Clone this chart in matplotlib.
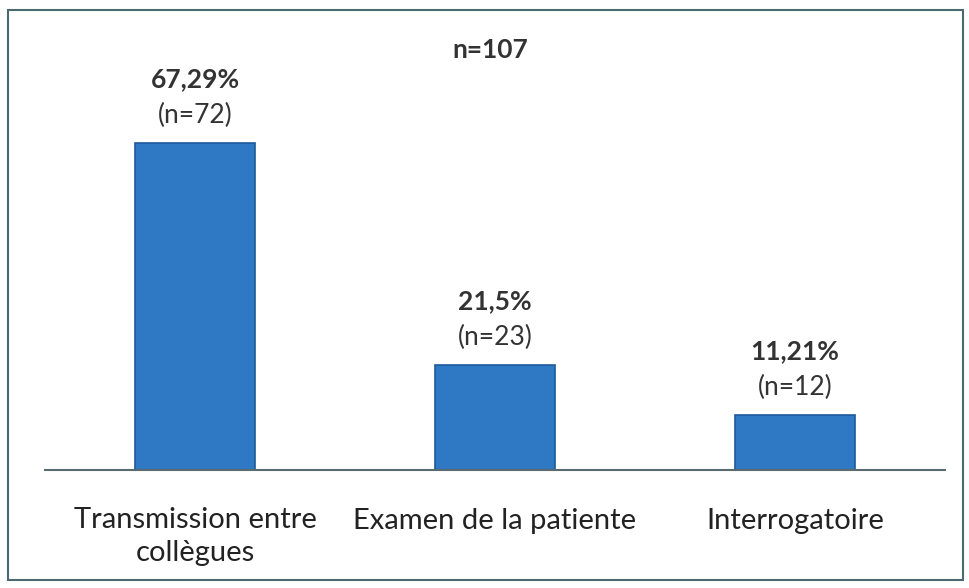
import matplotlib.pyplot as plt
from matplotlib.patches import Rectangle

categories = ['Transmission entre\ncollègues', 'Examen de la patiente', 'Interrogatoire']
percents = [67.29, 21.5, 11.21]
pct_labels = ['67,29%', '21,5%', '11,21%']
counts = [72, 23, 12]
total = 107

plt.rcParams['font.family'] = ['Lato', 'DejaVu Sans']

fig = plt.figure(figsize=(9.69, 5.88), dpi=100)
ax = fig.add_axes([45 / 969, 1 - 470 / 588, 900 / 969, 440 / 588])

x = range(len(categories))
ax.bar(x, percents, width=0.4, color='#2f78c4', edgecolor='#1d5a9a', linewidth=1.2)

for i, (p, lab, n) in enumerate(zip(percents, pct_labels, counts)):
    ax.annotate(lab, (i, p), xytext=(0, 46), textcoords='offset points',
                ha='center', va='center', fontsize=19, fontweight='bold', color='#333333')
    ax.annotate(f'(n={n})', (i, p), xytext=(0, 20), textcoords='offset points',
                ha='center', va='center', fontsize=19, color='#333333')

ax.set_xlim(-0.5, 2.5)
ax.set_ylim(0, 90.5)
ax.set_xticks(list(x))
ax.set_xticklabels(categories, fontsize=21, color='#222222', linespacing=1.3)
ax.tick_params(axis='x', length=0, pad=27)
ax.set_yticks([])
for s in ['top', 'right', 'left']:
    ax.spines[s].set_visible(False)
ax.spines['bottom'].set_color('#5a6b70')
ax.spines['bottom'].set_linewidth(1.5)

fig.text(490 / 969, 1 - 50 / 588, f'n={total}', ha='center', va='center',
         fontsize=19, fontweight='bold', color='#333333')

fig.patches.append(Rectangle((8 / 969, 8 / 588), 955 / 969, 570 / 588,
                             transform=fig.transFigure, fill=False,
                             edgecolor='#4a6a70', linewidth=1.5))

fig.savefig('out.png', dpi=100)
